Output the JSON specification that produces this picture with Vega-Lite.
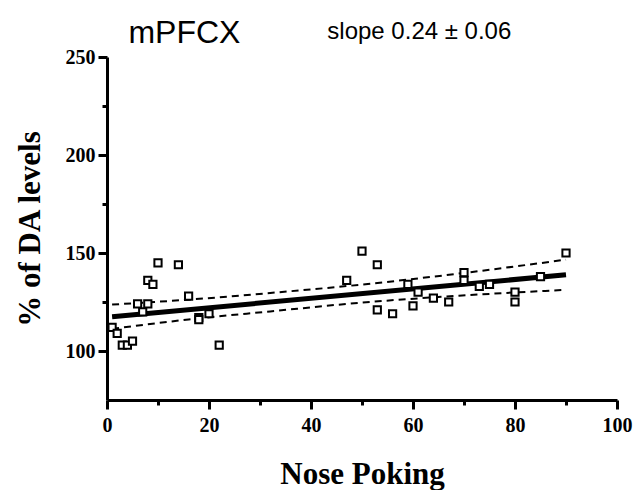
{
  "$schema": "https://vega.github.io/schema/vega-lite/v6.json",
  "width": 510,
  "height": 343,
  "autosize": {"type": "none"},
  "padding": {"left": 107, "top": 57, "right": 18, "bottom": 90},
  "background": "white",
  "datasets": {
    "points": [
      {"poke": 1, "da": 112}, {"poke": 2, "da": 109}, {"poke": 3, "da": 103}, {"poke": 4, "da": 103},
      {"poke": 5, "da": 105}, {"poke": 6, "da": 124}, {"poke": 7, "da": 120}, {"poke": 8, "da": 124},
      {"poke": 8, "da": 136}, {"poke": 9, "da": 134}, {"poke": 10, "da": 145}, {"poke": 14, "da": 144},
      {"poke": 16, "da": 128}, {"poke": 18, "da": 117}, {"poke": 18, "da": 116}, {"poke": 20, "da": 119},
      {"poke": 22, "da": 103}, {"poke": 47, "da": 136}, {"poke": 50, "da": 151}, {"poke": 53, "da": 144},
      {"poke": 53, "da": 121}, {"poke": 56, "da": 119}, {"poke": 59, "da": 134}, {"poke": 60, "da": 123},
      {"poke": 61, "da": 130}, {"poke": 64, "da": 127}, {"poke": 67, "da": 125}, {"poke": 70, "da": 140},
      {"poke": 70, "da": 136}, {"poke": 73, "da": 133}, {"poke": 75, "da": 134}, {"poke": 80, "da": 130},
      {"poke": 80, "da": 125}, {"poke": 85, "da": 138}, {"poke": 90, "da": 150}
    ],
    "fit": [
      {"poke": 1, "da": 117.5}, {"poke": 90, "da": 138.9}
    ],
    "band": [
      {"poke": 1, "upper": 123.7, "lower": 111.3},
      {"poke": 16, "upper": 126.2, "lower": 116.1},
      {"poke": 32, "upper": 129.6, "lower": 120.2},
      {"poke": 50, "upper": 133.9, "lower": 124.7},
      {"poke": 69, "upper": 139.5, "lower": 128.2},
      {"poke": 90, "upper": 146.6, "lower": 131.2}
    ],
    "labels": [
      {"label": "mPFCX", "size": "big"},
      {"label": "slope 0.24 ± 0.06", "size": "small"}
    ]
  },
  "layer": [
    {
      "data": {"name": "band"},
      "mark": {"type": "line", "color": "black", "strokeWidth": 2, "strokeDash": [7, 5], "interpolate": "monotone"},
      "encoding": {
        "x": {
          "field": "poke", "type": "quantitative",
          "scale": {"domain": [0, 100], "nice": false, "zero": false},
          "axis": {"orient": "bottom", "values": [0, 20, 40, 60, 80, 100], "title": "Nose Poking", "tickSize": 9, "labelPadding": 6, "titlePadding": 24, "labelFlush": false,
                   "labelFont": "Liberation Serif", "labelFontWeight": "bold", "labelFontSize": 20, "labelColor": "black"}
        },
        "y": {
          "field": "upper", "type": "quantitative",
          "scale": {"domain": [75, 250], "nice": false, "zero": false},
          "axis": {"orient": "left", "values": [100, 150, 200, 250], "title": "% of DA levels", "tickSize": 9, "labelPadding": 3, "titlePadding": 19,
                   "labelFont": "Liberation Serif", "labelFontWeight": "bold", "labelFontSize": 20, "labelColor": "black"}
        }
      }
    },
    {
      "data": {"name": "band"},
      "mark": {"type": "line", "color": "black", "strokeWidth": 2, "strokeDash": [7, 5], "interpolate": "monotone"},
      "encoding": {
        "x": {"field": "poke", "type": "quantitative", "scale": {"domain": [0, 100], "nice": false, "zero": false}, "axis": null},
        "y": {"field": "lower", "type": "quantitative", "scale": {"domain": [75, 250], "nice": false, "zero": false}, "axis": null}
      }
    },
    {
      "data": {"name": "fit"},
      "mark": {"type": "line", "color": "black", "strokeWidth": 5},
      "encoding": {
        "x": {"field": "poke", "type": "quantitative", "scale": {"domain": [0, 100], "nice": false, "zero": false}, "axis": null},
        "y": {"field": "da", "type": "quantitative", "scale": {"domain": [75, 250], "nice": false, "zero": false}, "axis": null}
      }
    },
    {
      "data": {"name": "fit"},
      "mark": {"type": "line", "color": "black", "opacity": 0},
      "encoding": {
        "x": {
          "field": "poke", "type": "quantitative",
          "scale": {"domain": [0, 100], "nice": false, "zero": false},
          "axis": {"orient": "bottom", "values": [10, 30, 50, 70, 90], "labels": false, "domain": false, "tickSize": 5, "title": null}
        },
        "y": {
          "field": "da", "type": "quantitative",
          "scale": {"domain": [75, 250], "nice": false, "zero": false},
          "axis": {"orient": "left", "values": [125, 175, 225], "labels": false, "domain": false, "tickSize": 5, "title": null}
        }
      }
    },
    {
      "data": {"name": "points"},
      "mark": {"type": "point", "shape": "square", "size": 52, "fill": "white", "stroke": "black", "strokeWidth": 2, "opacity": 1},
      "encoding": {
        "x": {"field": "poke", "type": "quantitative", "scale": {"domain": [0, 100], "nice": false, "zero": false}, "axis": null},
        "y": {"field": "da", "type": "quantitative", "scale": {"domain": [75, 250], "nice": false, "zero": false}, "axis": null}
      }
    },
    {
      "data": {"name": "labels"},
      "transform": [{"filter": "datum.size === 'big'"}],
      "mark": {"type": "text", "align": "left", "baseline": "alphabetic", "font": "Liberation Sans", "fontSize": 32, "color": "black"},
      "encoding": {
        "text": {"field": "label", "type": "nominal"},
        "x": {"datum": 4.2, "type": "quantitative", "scale": {"domain": [0, 100], "nice": false, "zero": false}, "axis": null},
        "y": {"datum": 257.3, "type": "quantitative", "scale": {"domain": [75, 250], "nice": false, "zero": false}, "axis": null}
      }
    },
    {
      "data": {"name": "labels"},
      "transform": [{"filter": "datum.size === 'small'"}],
      "mark": {"type": "text", "align": "left", "baseline": "alphabetic", "font": "Liberation Sans", "fontSize": 24, "color": "black"},
      "encoding": {
        "text": {"field": "label", "type": "nominal"},
        "x": {"datum": 43.2, "type": "quantitative", "scale": {"domain": [0, 100], "nice": false, "zero": false}, "axis": null},
        "y": {"datum": 259.3, "type": "quantitative", "scale": {"domain": [75, 250], "nice": false, "zero": false}, "axis": null}
      }
    }
  ],
  "resolve": {"axis": {"x": "independent", "y": "independent"}},
  "config": {
    "view": {"stroke": null},
    "axis": {
      "grid": false,
      "domainColor": "black",
      "domainWidth": 3,
      "tickColor": "black",
      "tickWidth": 3,
      "titleFont": "Liberation Serif",
      "titleFontWeight": "bold",
      "titleFontSize": 31,
      "titleColor": "black"
    }
  }
}
